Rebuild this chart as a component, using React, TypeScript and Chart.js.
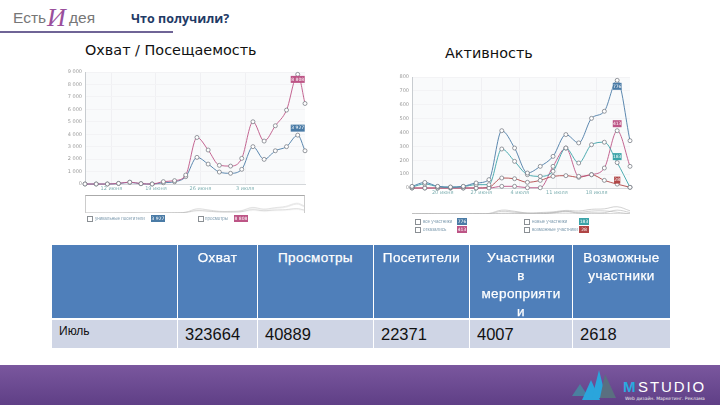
import React, { useEffect, useRef } from "react";
import Chart from "chart.js/auto";

const reachDays = [0, 1, 2, 3, 4, 5, 6, 7, 8, 9, 10, 11, 12, 13, 14, 15, 16, 17, 18, 19, 19.65];
const reachValues = [0, 0, 0, 40, 130, 20, 0, 100, 180, 590, 2140, 1600, 960, 860, 1180, 3000, 1980, 2670, 3000, 3927, 2670];
const viewValues = [0, 0, 0, 50, 150, 30, 0, 190, 270, 720, 3740, 2730, 1500, 1440, 2060, 5000, 3450, 4680, 5940, 8808, 6470];
const reachTickDays = [2.36, 6.34, 10.3, 14.3];
const reachTickLabels = ["12 июня", "19 июня", "26 июня", "3 июля"];

const activityDays = [0, 1, 2, 3, 4, 5, 6, 7, 8, 9, 10, 11, 12, 13, 14, 15, 16, 17];
const allMembers = [12, 40, 12, 7, 12, 36, 60, 413, 288, 108, 156, 228, 385, 325, 502, 553, 776, 341];
const newMembers = [7, 29, 10, 5, 10, 24, 24, 281, 192, 96, 84, 120, 288, 180, 312, 330, 183, 5];
const leftMembers = [0, 0, 0, 0, 0, 0, 0, 12, 12, 2, 2, 156, 288, 84, 96, 144, 413, 156];
const maybeMembers = [0, 0, 0, 0, 0, 0, 5, 72, 67, 41, 55, 84, 89, 77, 96, 55, 28, 5];
const activityTickDays = [2.4, 5.4, 8.4, 11.3, 14.4];
const activityTickLabels = ["20 июня", "27 июня", "4 июля", "11 июля", "18 июля"];

const tableHeaders = ["", "Охват", "Просмотры", "Посетители", "Участники\nв\nмероприяти\nи", "Возможные\nучастники"];
const tableRow = ["Июль", "323664", "40889", "22371", "4007", "2618"];

const BLUE = "#4a7ba6";
const PINK = "#bd5586";
const TEAL = "#3ba3a8";
const RED = "#b04545";

type Series = { values: number[]; color: string; badge: string; badgeAt: number; badgeShift: number };

const reachSeries: Series[] = [
  { values: viewValues, color: PINK, badge: "8 808", badgeAt: 19, badgeShift: 5 },
  { values: reachValues, color: BLUE, badge: "3 927", badgeAt: 19, badgeShift: -7 },
];
const activitySeries: Series[] = [
  { values: allMembers, color: BLUE, badge: "776", badgeAt: 16, badgeShift: 6 },
  { values: newMembers, color: TEAL, badge: "183", badgeAt: 16, badgeShift: -6 },
  { values: leftMembers, color: PINK, badge: "413", badgeAt: 16, badgeShift: -7 },
  { values: maybeMembers, color: RED, badge: "28", badgeAt: 16, badgeShift: -4 },
];

const fmt = (v: number) => (v >= 1000 ? `${v / 1000} 000` : `${v}`);

const LineChart = ({ days, series, yMax, yStep, tickDays, tickLabels, xMax, style }: any) => {
  const ref = useRef<HTMLCanvasElement>(null);
  useEffect(() => {
    const chart = new Chart(ref.current!, {
      type: "line",
      data: {
        datasets: series.map((s: Series) => ({
          data: days.map((d: number, i: number) => ({ x: d, y: s.values[i] })),
          borderColor: s.color,
          borderWidth: 0.9,
          pointRadius: 2,
          pointBackgroundColor: "#fff",
          pointBorderColor: "#6b7078",
          pointBorderWidth: 0.7,
          cubicInterpolationMode: "monotone",
          tension: 0.4,
          clip: false,
        })),
      },
      options: {
        animation: false,
        responsive: false,
        devicePixelRatio: 1,
        layout: { padding: { top: style.padTop, right: 5 } },
        plugins: { legend: { display: false }, tooltip: { enabled: false } },
        scales: {
          x: {
            type: "linear",
            min: 0,
            max: xMax,
            afterFit: (s: any) => { s.height = style.height - style.bottom; },
            afterBuildTicks: (s: any) => { s.ticks = tickDays.map((value: number) => ({ value })); },
            ticks: {
              autoSkip: false,
              maxRotation: 0,
              padding: 2,
              color: "#7fb0b2",
              font: { size: 5, family: "DejaVu Sans" },
              callback: (v: any) => tickLabels[tickDays.indexOf(v)] ?? "",
            },
            grid: { color: "#f0f0f3", drawTicks: false },
            border: { color: "#d4d7da" },
          },
          y: {
            min: 0,
            max: yMax,
            afterFit: (s: any) => { s.width = style.left; },
            ticks: {
              stepSize: yStep,
              padding: 3,
              color: "#9a9a9a",
              font: { size: 5, family: "DejaVu Sans" },
              callback: (v: any) => fmt(Number(v)),
            },
            grid: { color: "#f3f3f5", drawTicks: false },
            border: { color: "#c8ccd0" },
          },
        },
      },
      plugins: [
        {
          id: "plotBack",
          beforeDraw: (c: any) => {
            const a = c.chartArea;
            c.ctx.fillStyle = "#f9fafb";
            c.ctx.fillRect(a.left, a.top, a.right - a.left, a.bottom - a.top);
          },
        },
        {
          id: "badges",
          afterDraw: (c: any) => {
            const ctx = c.ctx;
            series.forEach((s: Series, i: number) => {
              const p = c.getDatasetMeta(i).data[s.badgeAt];
              const w = s.badge.length * 2.6 + 1;
              const cy = p.y + s.badgeShift;
              ctx.fillStyle = s.color;
              ctx.fillRect(p.x - w / 2, cy - 3.5, w, 7);
              ctx.fillStyle = "#fff";
              ctx.font = "4.5px DejaVu Sans";
              ctx.textAlign = "center";
              ctx.textBaseline = "middle";
              ctx.fillText(s.badge, p.x, cy);
            });
          },
        },
      ],
    } as any);
    return () => chart.destroy();
  }, []);
  return (
    <canvas
      ref={ref}
      width={style.width}
      height={style.height}
      style={{ position: "absolute", left: style.x, top: style.y, width: style.width, height: style.height }}
    />
  );
};

const MiniChart = ({ days, series, xMax, yMax, x, y, width, height, framed }: any) => {
  const ref = useRef<HTMLCanvasElement>(null);
  useEffect(() => {
    const chart = new Chart(ref.current!, {
      type: "line",
      data: {
        datasets: series.map((s: Series) => ({
          data: days.map((d: number, i: number) => ({ x: d, y: s.values[i] })),
          borderColor: "#b4b4b4",
          borderWidth: 0.6,
          pointRadius: 0,
          tension: 0.4,
        })),
      },
      options: {
        animation: false,
        responsive: false,
        devicePixelRatio: 1,
        plugins: { legend: { display: false }, tooltip: { enabled: false } },
        scales: {
          x: { type: "linear", display: false, min: 0, max: xMax },
          y: { display: false, min: 0, max: yMax },
        },
      },
    } as any);
    return () => chart.destroy();
  }, []);
  return (
    <canvas
      ref={ref}
      width={width}
      height={height}
      style={{
        position: "absolute", left: x, top: y, width, height,
        borderTop: framed ? "1px solid #aaa" : "none",
        borderLeft: framed ? "1px solid #ccc" : "none",
        borderRight: framed ? "1px solid #ccc" : "none",
      }}
    />
  );
};

const LegendItem = ({ x, y, textX, text, badgeX, badgeW, color, badge }: any) => (
  <>
    <div style={{ position: "absolute", left: x, top: y - 3, width: 4, height: 4, border: "1px solid #8a8f94" }} />
    <div style={{ position: "absolute", left: textX, top: y - 3, fontSize: 4.5, lineHeight: "6px", color: "#7f9cb0", whiteSpace: "nowrap", fontFamily: "Liberation Sans" }}>{text}</div>
    <div style={{ position: "absolute", left: badgeX, top: y - 4, width: badgeW, textAlign: "center", height: 7, lineHeight: "7px", fontSize: 4.5, color: "#fff", background: color, fontFamily: "DejaVu Sans" }}>{badge}</div>
  </>
);

const colX = [52, 178, 258, 374, 470, 573];
const colW = [125, 79, 115, 95, 102, 97];

export default function App() {
  const label = (text: string, left: number, top: number, css: any = {}) => (
    <div style={{ position: "absolute", left, top, whiteSpace: "nowrap", fontFamily: "DejaVu Sans", ...css }}>{text}</div>
  );
  return (
    <div style={{ position: "absolute", left: 0, top: 0, width: 720, height: 405, overflow: "hidden", background: "#fff" }}>
      {label("Есть", 13, 9, { fontSize: 15.5, color: "#777", fontFamily: "Liberation Sans" })}
      {label("И", 47, 3, { fontSize: 26, color: "#9a4f9c", fontStyle: "italic", fontFamily: "Liberation Serif" })}
      {label("дея", 69, 9, { fontSize: 15.5, color: "#777", fontFamily: "Liberation Sans" })}
      {label("Что получили?", 131, 10, { fontSize: 12.5, fontWeight: 700, color: "#1f3a66", fontFamily: "Open Sans" })}
      <div style={{ position: "absolute", left: 0, top: 31, width: 173, height: 2, background: "#6f6496" }} />
      {label("Охват / Посещаемость", 85, 42, { fontSize: 14.4, color: "#111" })}
      {label("Активность", 445, 45, { fontSize: 14.4, color: "#111" })}

      <LineChart
        days={reachDays}
        series={reachSeries}
        yMax={9000}
        yStep={1000}
        xMax={19.65}
        tickDays={reachTickDays}
        tickLabels={reachTickLabels}
        style={{ x: 60, y: 62, width: 250, height: 140, left: 25, padTop: 10, bottom: 122 }}
      />
      <MiniChart days={reachDays} series={reachSeries} xMax={19.65} yMax={16000} x={85} y={195} width={220} height={18} framed />
      <LegendItem x={87} y={219} textX={95} text="уникальные посетители" badgeX={151} badgeW={14} color={BLUE} badge="3 927" />
      <LegendItem x={198} y={219} textX={205} text="просмотры" badgeX={234} badgeW={14} color={PINK} badge="8 808" />

      <LineChart
        days={activityDays}
        series={activitySeries}
        yMax={800}
        yStep={100}
        xMax={17}
        tickDays={activityTickDays}
        tickLabels={activityTickLabels}
        style={{ x: 385, y: 65, width: 250, height: 141, left: 27, padTop: 12, bottom: 123 }}
      />
      <MiniChart days={activityDays} series={activitySeries} xMax={17} yMax={1500} x={412} y={200} width={218} height={14} />
      <LegendItem x={415} y={222} textX={423} text="все участники" badgeX={457} badgeW={10} color={BLUE} badge="776" />
      <LegendItem x={415} y={230} textX={423} text="отказались" badgeX={457} badgeW={10} color={PINK} badge="413" />
      <LegendItem x={524} y={222} textX={532} text="новые участники" badgeX={579} badgeW={10} color={TEAL} badge="183" />
      <LegendItem x={524} y={230} textX={532} text="возможные участники" badgeX={579} badgeW={10} color={RED} badge="28" />

      {tableHeaders.map((h, i) => (
        <div
          key={i}
          style={{
            position: "absolute", left: colX[i], top: 245, width: colW[i], height: 73, background: "#4f7fba",
            color: "#fff", fontFamily: "Liberation Sans", fontSize: 13.5, letterSpacing: 0.4, lineHeight: "18px",
            textAlign: "center", padding: "4px 0 0", boxSizing: "border-box", overflow: "hidden", whiteSpace: "pre-line",
            WebkitTextStroke: "0.25px #fff",
          }}
        >
          {h}
        </div>
      ))}
      {tableRow.map((v, i) => (
        <div
          key={i}
          style={{
            position: "absolute", left: colX[i], top: 320, width: colW[i], height: 28, background: "#cfd5e5",
            color: "#111", fontFamily: "Liberation Sans", fontSize: i === 0 ? 12 : 16.5,
            lineHeight: i === 0 ? "22px" : "29px", paddingLeft: 7, boxSizing: "border-box",
          }}
        >
          {v}
        </div>
      ))}

      <div style={{ position: "absolute", left: 0, top: 365, width: 720, height: 40, background: "linear-gradient(#7a579e, #5f3f86)" }} />
      <svg style={{ position: "absolute", left: 570, top: 366 }} width={50} height={38}>
        <polygon points="2,30 10,18 18,30" fill="#4a7f9f" />
        <polygon points="12,34 21,14 30,34" fill="#2aa5dc" />
        <polygon points="22,32 29,4 36,32" fill="#2aa5dc" />
        <polygon points="30,32 35,8 46,32" fill="#5a6f80" />
      </svg>
      {label("M", 623, 378, { fontSize: 15, fontWeight: 700, color: "#29a9e0", fontFamily: "Liberation Sans" })}
      {label("STUDIO", 638, 378, { fontSize: 15, letterSpacing: 1.9, color: "#fff", fontFamily: "Liberation Sans" })}
      {label("Web дизайн. Маркетинг. Реклама", 625, 396, { fontSize: 4.5, color: "#eee" })}
    </div>
  );
}
